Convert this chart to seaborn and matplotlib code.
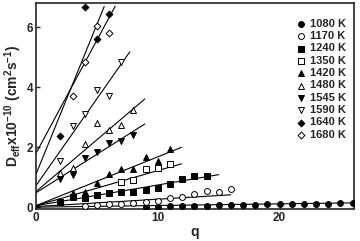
import numpy as np
import pandas as pd
import seaborn as sns
import matplotlib as mpl
mpl.use("Agg")
import matplotlib.pyplot as plt

# series
temps = ['1080 K', '1170 K', '1240 K', '1350 K', '1420 K',
         '1480 K', '1545 K', '1590 K', '1640 K', '1680 K']
markers = ['o', 'o', 's', 's', '^', '^', 'v', 'v', 'D', 'D']
filled = [True, False, True, False, True, False, True, False, True, False]

q_1080 = list(range(9, 27))
d_1080 = [0.02, 0.02, 0.03, 0.04, 0.05, 0.05, 0.06, 0.07, 0.07, 0.08,
          0.12, 0.12, 0.09, 0.10, 0.11, 0.11, 0.14, 0.13]
q_1170 = list(range(4, 17))
d_1170 = [0.03, 0.08, 0.10, 0.10, 0.13, 0.17, 0.19, 0.30, 0.33, 0.45, 0.55, 0.52, 0.60]
q_1240 = list(range(2, 15))
d_1240 = [0.17, 0.33, 0.32, 0.42, 0.48, 0.50, 0.51, 0.58, 0.65, 0.76, 0.95, 1.04, 1.04]
q_1350 = [7, 8, 9, 10, 11]
d_1350 = [0.85, 0.89, 1.26, 1.30, 1.44]
q_1420 = list(range(3, 12))
d_1420 = [0.47, 0.51, 0.82, 1.10, 1.28, 1.28, 1.68, 1.53, 1.93]
q_1480 = list(range(2, 9))
d_1480 = [1.15, 1.30, 2.10, 2.82, 2.58, 2.73, 3.24]
q_1545 = list(range(2, 9))
d_1545 = [0.93, 1.06, 1.63, 1.85, 2.15, 2.20, 2.40]
q_1590 = [2, 3, 4, 5, 6, 7]
d_1590 = [1.55, 2.71, 3.11, 3.91, 3.71, 4.83]
q_1640 = [2, 4, 5, 6]
d_1640 = [2.37, 6.67, 5.60, 6.44]
q_1680 = [3, 4, 5, 6]
d_1680 = [3.72, 4.85, 6.04, 5.83]

# fitted lines: intercept, slope, last q of the drawn line
fit_b = [0.00, 0.02, 0.05, 0.05, 0.05, 0.52, 0.48, 0.72, 1.10, 1.80]
fit_m = [0.0055, 0.0245, 0.069, 0.117, 0.163, 0.346, 0.257, 0.58, 1.00, 0.755]
fit_end = [26.1, 16.0, 15.0, 11.94, 11.94, 8.93, 8.93, 7.7, 5.6, 6.5]

qs = [q_1080, q_1170, q_1240, q_1350, q_1420, q_1480, q_1545, q_1590, q_1640, q_1680]
ds = [d_1080, d_1170, d_1240, d_1350, d_1420, d_1480, d_1545, d_1590, d_1640, d_1680]

sns.set_style("ticks")
plt.rcParams['font.family'] = ['Liberation Sans', 'DejaVu Sans']
plt.rcParams['font.weight'] = 'bold'
plt.rcParams['mathtext.fontset'] = 'custom'
plt.rcParams['mathtext.bf'] = 'Liberation Sans:bold'
plt.rcParams['mathtext.rm'] = 'Liberation Sans:bold'
plt.rcParams['mathtext.default'] = 'bf'

fig = plt.figure(figsize=(3.6, 2.41), dpi=100)
ax = fig.add_axes([0.1, 0.133, 0.883, 0.855])

for i in range(len(temps)):
    xl = np.array([0, fit_end[i]])
    line = pd.DataFrame({'q': xl, 'd': fit_b[i] + fit_m[i] * xl})
    sns.lineplot(data=line, x='q', y='d', color='black', lw=0.8, ax=ax)

for i in range(len(temps)):
    df = pd.DataFrame({'q': qs[i], 'd': ds[i]})
    ms = 18 if markers[i] != 'D' else 12
    sns.scatterplot(data=df, x='q', y='d', marker=markers[i], s=ms,
                    color='black' if filled[i] else 'white',
                    edgecolor='black', linewidth=0.7, label=temps[i], ax=ax,
                    zorder=3)

ax.set_xlim(0, 26.1)
ax.set_ylim(-0.06, 6.82)
ax.set_xticks([0, 10, 20])
ax.set_yticks([0, 2, 4, 6])
ax.tick_params(direction='in', length=3, width=1, labelsize=8.5, pad=2)
for s in ax.spines.values():
    s.set_linewidth(1.2)
ax.set_xlabel('q', fontsize=10, fontweight='bold', labelpad=1)
ax.set_ylabel(r'D$_{eff}$x10$^{-10}$ (cm$^{2}$s$^{-1}$)', fontsize=10,
              fontweight='bold', labelpad=2)

leg = ax.legend(loc='upper right', bbox_to_anchor=(0.995, 0.955), frameon=False,
                fontsize=8, handletextpad=0.3, labelspacing=0.21,
                handlelength=1.0, borderaxespad=0.2)
for t in leg.get_texts():
    t.set_fontweight('bold')

plt.savefig('out.png', dpi=100)
